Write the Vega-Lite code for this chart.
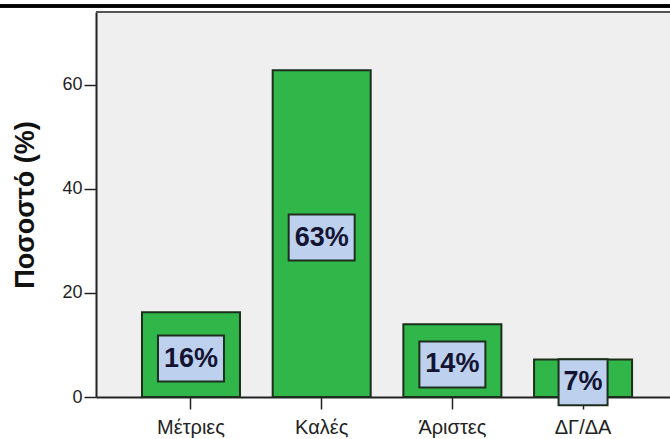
{
  "$schema": "https://vega.github.io/schema/vega-lite/v6.json",
  "width": 574,
  "height": 385,
  "autosize": {"type": "none"},
  "padding": {"left": 96, "top": 12, "right": 0, "bottom": 42},
  "background": "white",
  "config": {"view": {"stroke": null, "fill": "#efefef"}, "font": "Liberation Sans"},
  "data": {
    "values": [
      {"cat": "Μέτριες", "value": 16.3, "label": "16%"},
      {"cat": "Καλές", "value": 62.8, "label": "63%"},
      {"cat": "Άριστες", "value": 14.0, "label": "14%"},
      {"cat": "ΔΓ/ΔΑ", "value": 7.2, "label": "7%"}
    ]
  },
  "transform": [
    {"calculate": "datum.value / 2 - 0.75", "as": "mid"},
    {"calculate": "datum.mid - 4.42", "as": "lo"},
    {"calculate": "datum.mid + 4.42", "as": "hi"},
    {"calculate": "length(datum.label) * 17 + 15", "as": "bw"}
  ],
  "layer": [
    {
      "encoding": {
        "x": {
          "field": "cat",
          "type": "nominal",
          "sort": null,
          "scale": {"paddingInner": 0.25, "paddingOuter": 0.321, "align": 0.548},
          "axis": {
            "title": null,
            "labelAngle": 0,
            "labelFontSize": 20,
            "labelColor": "#222",
            "labelPadding": 8,
            "tickSize": 12,
            "tickWidth": 1.5,
            "tickColor": "#222",
            "domainColor": "#222",
            "domainWidth": 2
          }
        }
      },
      "layer": [
        {
          "mark": {"type": "bar", "fill": "#31b64a", "stroke": "#1c2e1c", "strokeWidth": 2},
          "encoding": {
            "y": {
              "field": "value",
              "type": "quantitative",
              "scale": {"domain": [0, 74], "nice": false},
              "axis": {
                "values": [0, 20, 40, 60],
                "title": "Ποσοστό (%)",
                "titleFontSize": 27,
                "titleFontWeight": "bold",
                "titleColor": "#111",
                "titlePadding": 22,
                "labelFontSize": 18,
                "labelColor": "#222",
                "labelPadding": 2,
                "tickSize": 12,
                "tickWidth": 1.5,
                "tickColor": "#222",
                "domainColor": "#222",
                "domainWidth": 2,
                "grid": false
              }
            }
          }
        },
        {
          "mark": {"type": "bar", "fill": "#bdd1ee", "stroke": "#1e2e1e", "strokeWidth": 2},
          "encoding": {
            "y": {"field": "lo", "type": "quantitative", "scale": {"domain": [0, 74], "nice": false}},
            "y2": {"field": "hi"},
            "size": {"field": "bw", "type": "quantitative", "scale": null}
          }
        },
        {
          "mark": {"type": "text", "fontWeight": "bold", "fontSize": 27, "color": "#141432", "baseline": "middle"},
          "encoding": {
            "y": {"field": "mid", "type": "quantitative", "scale": {"domain": [0, 74], "nice": false}},
            "text": {"field": "label"}
          }
        }
      ]
    },
    {
      "mark": {"type": "rule", "color": "#555", "strokeWidth": 2},
      "encoding": {"y": {"datum": 74, "type": "quantitative", "scale": {"domain": [0, 74], "nice": false}}}
    },
    {
      "mark": {"type": "rule", "color": "black", "strokeWidth": 3, "x2Offset": -96},
      "encoding": {
        "y": {"datum": 75.15, "type": "quantitative", "scale": {"domain": [0, 74], "nice": false}},
        "x": {"value": "width"},
        "x2": {"value": 0}
      }
    }
  ]
}
